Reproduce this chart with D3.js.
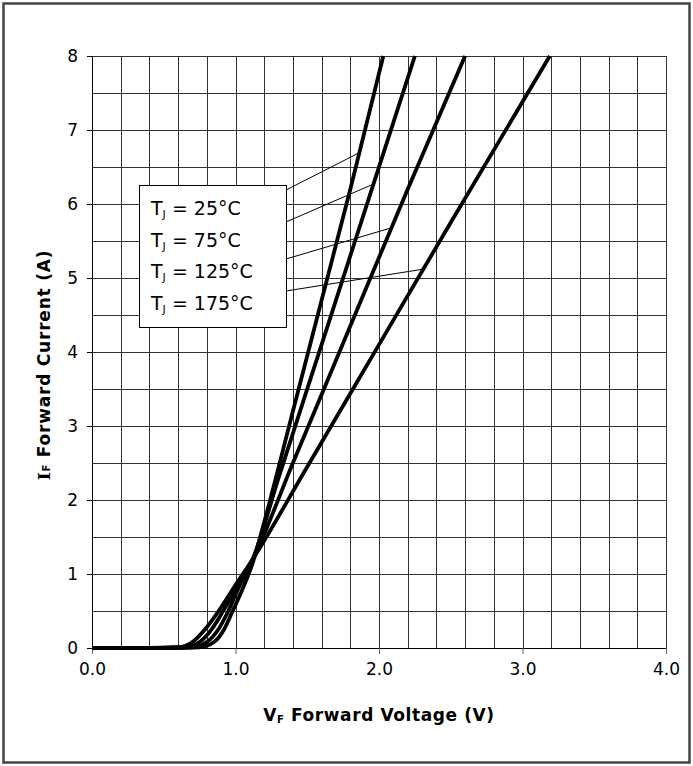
<!DOCTYPE html>
<html>
<head>
<meta charset="utf-8">
<script src="https://cdn.jsdelivr.net/npm/d3@7"></script>
<style>
  body { margin: 0; background: #fff; }
  text { font-family: "DejaVu Sans", Verdana, sans-serif; fill: #000; }
</style>
</head>
<body>
<div id="chart"></div>
<script>
// tick values
const voltTicks = [0, 1, 2, 3, 4];
const currentTicks = [0, 1, 2, 3, 4, 5, 6, 7, 8];

// legend
const tempLabels = ["25°C", "75°C", "125°C", "175°C"];

// forward voltage (V) / forward current (A)
const vf25 = [0, 0.5, 0.75, 0.85, 0.92, 0.98, 1.05, 1.12, 1.2, 1.4, 1.6, 1.8, 2.03];
const if25 = [0, 0, 0.01, 0.08, 0.25, 0.5, 0.8, 1.15, 1.7, 3.2, 4.7, 6.2, 8];

const vf75 = [0, 0.5, 0.7, 0.8, 0.88, 0.95, 1.03, 1.12, 1.3, 1.6, 1.9, 2.25];
const if75 = [0, 0, 0.01, 0.08, 0.25, 0.5, 0.85, 1.2, 2.3, 4.1, 5.9, 8];

const vf125 = [0, 0.45, 0.65, 0.75, 0.84, 0.92, 1.02, 1.12, 1.4, 1.8, 2.2, 2.6];
const if125 = [0, 0, 0.01, 0.08, 0.27, 0.52, 0.85, 1.2, 2.5, 4.35, 6.2, 8];

const vf175 = [0, 0.4, 0.6, 0.7, 0.8, 0.9, 1.0, 1.12, 1.5, 2.0, 2.5, 3.19];
const if175 = [0, 0, 0.01, 0.08, 0.28, 0.55, 0.85, 1.2, 2.45, 4.1, 5.75, 8];

// where the legend leader lines touch each curve
const leaderV = [1.86, 1.95, 2.09, 2.31];
const leaderI = [6.69, 6.26, 5.68, 5.12];

const series = [
    d3.zip(vf25, if25),
    d3.zip(vf75, if75),
    d3.zip(vf125, if125),
    d3.zip(vf175, if175),
];

const svg_w = 693, svg_h = 766;
const margin = { top: 56, right: 27, bottom: 118, left: 92 };
const width = svg_w - margin.left - margin.right,
    height = svg_h - margin.top - margin.bottom;

const svg = d3.select("#chart")
    .append("svg")
    .attr("width", svg_w)
    .attr("height", svg_h);

// outer frame
svg.append("rect")
    .attr("x", 3.5).attr("y", 3.5)
    .attr("width", svg_w - 7).attr("height", svg_h - 7)
    .attr("fill", "none")
    .attr("stroke", "#444")
    .attr("stroke-width", 2.5);

const g = svg.append("g")
    .attr("transform", "translate(" + margin.left + "," + margin.top + ")");

const x = d3.scaleLinear().domain([0, 4]).range([0, width]);
const y = d3.scaleLinear().domain([0, 8]).range([height, 0]);

// grid: every 0.2 V and every 0.5 A
g.append("g")
    .attr("class", "grid_x")
    .call(d3.axisBottom(x).tickValues(d3.range(1, 21).map(d => d * 0.2)).tickSize(-height).tickFormat(""))
    .attr("transform", "translate(0," + height + ")")
    .call(a => a.select(".domain").remove())
    .selectAll("line")
    .attr("stroke", "#333")
    .attr("shape-rendering", "crispEdges");

g.append("g")
    .attr("class", "grid_y")
    .call(d3.axisLeft(y).tickValues(d3.range(1, 17).map(d => d * 0.5)).tickSize(-width).tickFormat(""))
    .call(a => a.select(".domain").remove())
    .selectAll("line")
    .attr("stroke", "#333")
    .attr("shape-rendering", "crispEdges");

// axes
const xAxis = d3.axisBottom(x).tickValues(voltTicks).tickSize(6).tickPadding(9).tickFormat(d3.format(".1f"));
g.append("g")
    .attr("class", "x_axis")
    .attr("transform", "translate(0," + height + ")")
    .call(xAxis)
    .call(a => a.select(".domain").attr("stroke", "#000"))
    .call(a => a.selectAll("line").attr("stroke", "#666"))
    .selectAll("text")
    .style("font-size", "17px")
    .style("font-family", "DejaVu Sans, Verdana, sans-serif");

const yAxis = d3.axisLeft(y).tickValues(currentTicks).tickSize(5).tickPadding(9);
g.append("g")
    .attr("class", "y_axis")
    .call(yAxis)
    .call(a => a.select(".domain").attr("stroke", "#000"))
    .call(a => a.selectAll("line").attr("stroke", "#000"))
    .selectAll("text")
    .style("font-size", "17px")
    .style("font-family", "DejaVu Sans, Verdana, sans-serif");

// curves
const line = d3.line()
    .x(d => x(d[0]))
    .y(d => y(d[1]))
    .curve(d3.curveMonotoneX);

g.selectAll(".curve")
    .data(series)
    .enter()
    .append("path")
    .attr("class", "curve")
    .attr("d", line)
    .attr("fill", "none")
    .attr("stroke", "#000")
    .attr("stroke-width", 3.8)
    .attr("stroke-linejoin", "round");

// legend box
const legend = { x: 47, y: 129, w: 147, h: 142, rowStart: 30, rowStep: 31.5 };
const boxEdgeY = [134, 166, 203, 235];

g.selectAll(".leader")
    .data(leaderV)
    .enter()
    .append("line")
    .attr("class", "leader")
    .attr("x1", legend.x + legend.w)
    .attr("y1", (d, i) => boxEdgeY[i])
    .attr("x2", d => x(d))
    .attr("y2", (d, i) => y(leaderI[i]))
    .attr("stroke", "#000")
    .attr("stroke-width", 1);

g.append("rect")
    .attr("x", legend.x + 0.5).attr("y", legend.y + 0.5)
    .attr("width", legend.w).attr("height", legend.h)
    .attr("fill", "#fff")
    .attr("stroke", "#000")
    .attr("stroke-width", 1);

const lt = g.selectAll(".legend_text")
    .data(tempLabels)
    .enter()
    .append("text")
    .attr("class", "legend_text")
    .attr("x", legend.x + 12)
    .attr("y", (d, i) => legend.y + legend.rowStart + i * legend.rowStep)
    .style("font-size", "19px");
lt.append("tspan").text("T");
lt.append("tspan").text("J").style("font-size", "11px").attr("dy", 3);
lt.append("tspan").text(d => " = " + d).attr("dy", -3);

// axis titles
const xt = svg.append("text")
    .attr("x", margin.left + width / 2)
    .attr("y", 721)
    .attr("text-anchor", "middle")
    .style("font-size", "17px")
    .style("letter-spacing", "0.6px")
    .style("font-weight", "bold");
xt.append("tspan").text("V");
xt.append("tspan").text("F").style("font-size", "10px").attr("dy", 2);
xt.append("tspan").text(" Forward Voltage (V)").attr("dy", -2);

const yt = svg.append("text")
    .attr("transform", "translate(50," + (margin.top + height / 2 + 13) + ") rotate(-90)")
    .attr("text-anchor", "middle")
    .style("font-size", "17px")
    .style("letter-spacing", "0.8px")
    .style("font-weight", "bold");
yt.append("tspan").text("I").style("font-family", "DejaVu Serif, serif");
yt.append("tspan").text("F").style("font-size", "10px").attr("dy", 0);
yt.append("tspan").text(" Forward Current (A)");
</script>
</body>
</html>
